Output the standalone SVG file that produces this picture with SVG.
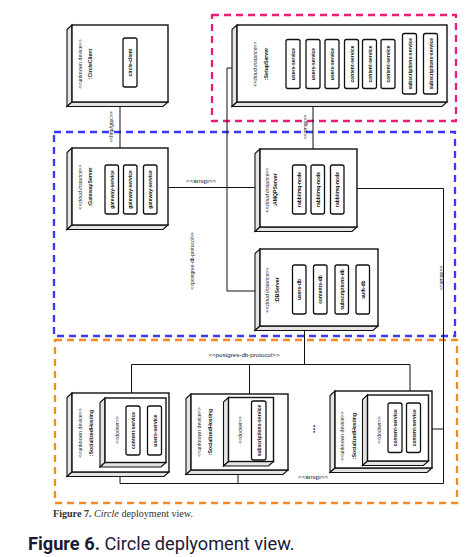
<svg xmlns="http://www.w3.org/2000/svg" width="476" height="557" viewBox="0 0 476 557">
<style>
  .bg{fill:#ffffff}
  .face{fill:#ffffff;stroke:#111;stroke-width:1.4}
  .side{fill:#e4e4e4;stroke:#111;stroke-width:1.1}
  .comp{fill:#ffffff;stroke:#111;stroke-width:1.3}
  .st{font-family:"Liberation Sans",Arial,sans-serif;font-size:5.2px;fill:#222;text-anchor:middle;dominant-baseline:central}
  .nm{font-family:"Liberation Sans",Arial,sans-serif;font-size:5.2px;font-weight:bold;fill:#111;text-anchor:middle;dominant-baseline:central}
  .cl{font-family:"Liberation Sans",Arial,sans-serif;font-size:5px;font-weight:bold;fill:#111;text-anchor:middle;dominant-baseline:central}
  .lb{font-family:"Liberation Sans",Arial,sans-serif;font-size:6.2px;fill:#222;text-anchor:middle}
  .lr{font-family:"Liberation Sans",Arial,sans-serif;font-size:5px;fill:#222;text-anchor:middle;dominant-baseline:central}
  .conn{fill:none;stroke:#111;stroke-width:1}
  .zone{fill:none;stroke-width:2.3;stroke-dasharray:7 5}
</style>
<rect class="bg" x="0" y="0" width="476" height="557"/>

<g id="zones">
  <rect class="zone" x="212" y="15" width="244" height="106" stroke="#ec1c7d"/>
  <rect class="zone" x="54" y="132" width="401" height="204" stroke="#3a3af0"/>
  <rect class="zone" x="55" y="340" width="402" height="163" stroke="#f58a1f"/>
</g>

<g id="connectors">
  <path class="conn" d="M120,106.5 V148"/>
  <path class="conn" d="M313,106.5 V149"/>
  <path class="conn" d="M232,68 H227 V291 H255"/>
  <path class="conn" d="M168,187.5 H255"/>
  <path class="conn" d="M357,188.5 H443.5 V483.5 H120 V476.5"/>
  <path class="conn" d="M238,474.5 V483.5"/>
  <path class="conn" d="M432,429 H443.5"/>
  <path class="conn" d="M304.5,330.5 V364.5"/>
  <path class="conn" d="M131.5,393 V364.5 H410 V391"/>
  <path class="conn" d="M249.5,364.5 V394"/>
  <text class="lr" transform="translate(111,127) rotate(-90)">&lt;&lt;http/grpc&gt;&gt;</text>
  <text class="lr" transform="translate(305,127) rotate(-90)">&lt;&lt;amqp&gt;&gt;</text>
  <text class="lb" x="201" y="183">&lt;&lt;amqp&gt;&gt;</text>
  <text class="lr" transform="translate(192,261) rotate(-90)">&lt;&lt;postgres-db-protocol&gt;&gt;</text>
  <text class="lr" transform="translate(441,278) rotate(-90)">&lt;&lt;amqp&gt;&gt;</text>
  <text class="lb" x="244" y="357">&lt;&lt;postgres-db-protocol&gt;&gt;</text>
  <text class="lb" x="313" y="479">&lt;&lt;amqp&gt;&gt;</text>
</g>

<g id="circle-client">
  <polygon class="side" points="72,25 67,29.5 67,106.5 72,102"/>
  <polygon class="side" points="67,106.5 72,102 168,102 163,106.5"/>
  <rect class="face" x="72" y="25" width="96" height="77"/>
  <text class="st" transform="translate(80,64) rotate(-90)">&lt;&lt;unknown device&gt;&gt;</text>
  <text class="nm" transform="translate(90,64) rotate(-90)">:CircleClient</text>
  <rect class="comp" x="123" y="38" width="14" height="49" rx="2"/>
  <text class="cl" transform="translate(130,62.5) rotate(-90)">circle-client</text>
</g>

<g id="setup-server">
  <polygon class="side" points="237,25 232,29.5 232,106.5 237,102"/>
  <polygon class="side" points="232,106.5 237,102 447,102 442,106.5"/>
  <rect class="face" x="237" y="25" width="210" height="77"/>
  <text class="st" transform="translate(255,64) rotate(-90)" font-style="italic">&lt;&lt;cloud instance&gt;&gt;</text>
  <text class="nm" transform="translate(266,64) rotate(-90)">:SetupServer</text>
  <rect class="comp" x="286" y="39.5" width="14" height="49" rx="2"/>
  <text class="cl" transform="translate(293,64) rotate(-90)">users-service</text>
  <rect class="comp" x="306" y="39.5" width="14" height="49" rx="2"/>
  <text class="cl" transform="translate(313,64) rotate(-90)">users-service</text>
  <rect class="comp" x="325" y="39.5" width="14" height="49" rx="2"/>
  <text class="cl" transform="translate(332,64) rotate(-90)">users-service</text>
  <rect class="comp" x="344.5" y="39.5" width="14" height="49" rx="2"/>
  <text class="cl" transform="translate(351.5,64) rotate(-90)">content-service</text>
  <rect class="comp" x="362.5" y="39.5" width="14" height="49" rx="2"/>
  <text class="cl" transform="translate(369.5,64) rotate(-90)">content-service</text>
  <rect class="comp" x="381" y="39.5" width="14" height="49" rx="2"/>
  <text class="cl" transform="translate(388,64) rotate(-90)">content-service</text>
  <rect class="comp" x="402.5" y="33.5" width="14" height="60.5" rx="2"/>
  <text class="cl" transform="translate(409.5,63.75) rotate(-90)">subscriptions-service</text>
  <rect class="comp" x="423.5" y="33.5" width="14" height="60.5" rx="2"/>
  <text class="cl" transform="translate(430.5,63.75) rotate(-90)">subscriptions-service</text>
</g>

<g id="gateway-server">
  <polygon class="side" points="72,148 67,152.5 67,229.5 72,225"/>
  <polygon class="side" points="67,229.5 72,225 168,225 163,229.5"/>
  <rect class="face" x="72" y="148" width="96" height="77"/>
  <text class="st" transform="translate(80,187) rotate(-90)" font-style="italic">&lt;&lt;cloud instance&gt;&gt;</text>
  <text class="nm" transform="translate(90,187) rotate(-90)">:GatewayServer</text>
  <rect class="comp" x="105" y="165" width="13.5" height="49" rx="2"/>
  <text class="cl" transform="translate(111.75,189.5) rotate(-90)">gateway-service</text>
  <rect class="comp" x="123.5" y="165" width="13.5" height="49" rx="2"/>
  <text class="cl" transform="translate(130.25,189.5) rotate(-90)">gateway-service</text>
  <rect class="comp" x="143.5" y="165" width="13.5" height="49" rx="2"/>
  <text class="cl" transform="translate(150.25,189.5) rotate(-90)">gateway-service</text>
</g>

<g id="amqp-server">
  <polygon class="side" points="260,149 255,153.5 255,231.5 260,227"/>
  <polygon class="side" points="255,231.5 260,227 357,227 352,231.5"/>
  <rect class="face" x="260" y="149" width="97" height="78"/>
  <text class="st" transform="translate(267,190) rotate(-90)" font-style="italic">&lt;&lt;cloud instance&gt;&gt;</text>
  <text class="nm" transform="translate(275,190) rotate(-90)">:AMQPServer</text>
  <rect class="comp" x="292.5" y="165" width="13.5" height="49" rx="2"/>
  <text class="cl" transform="translate(299.25,189.5) rotate(-90)">rabbitmq-node</text>
  <rect class="comp" x="311" y="165" width="13.5" height="49" rx="2"/>
  <text class="cl" transform="translate(317.75,189.5) rotate(-90)">rabbitmq-node</text>
  <rect class="comp" x="330.5" y="165" width="13.5" height="49" rx="2"/>
  <text class="cl" transform="translate(337.25,189.5) rotate(-90)">rabbitmq-node</text>
</g>

<g id="db-server">
  <polygon class="side" points="260,249 255,253.5 255,330.5 260,326"/>
  <polygon class="side" points="255,330.5 260,326 378,326 373,330.5"/>
  <rect class="face" x="260" y="249" width="118" height="77"/>
  <text class="st" transform="translate(267,290) rotate(-90)" font-style="italic">&lt;&lt;cloud instance&gt;&gt;</text>
  <text class="nm" transform="translate(277,290) rotate(-90)">:DBServer</text>
  <rect class="comp" x="292.5" y="265" width="13.5" height="49" rx="2"/>
  <text class="cl" transform="translate(299.25,289.5) rotate(-90)">users-db</text>
  <rect class="comp" x="313.5" y="265" width="13.5" height="49" rx="2"/>
  <text class="cl" transform="translate(320.25,289.5) rotate(-90)">contents-db</text>
  <rect class="comp" x="335" y="265" width="13.5" height="49" rx="2"/>
  <text class="cl" transform="translate(341.75,289.5) rotate(-90)">subscriptions-db</text>
  <rect class="comp" x="356" y="265" width="13.5" height="49" rx="2"/>
  <text class="cl" transform="translate(362.75,289.5) rotate(-90)">auth-db</text>
</g>

<g id="hosting-1">
  <polygon class="side" points="72,393 67,397.5 67,476.5 72,472"/>
  <polygon class="side" points="67,476.5 72,472 169,472 164,476.5"/>
  <rect class="face" x="72" y="393" width="97" height="79"/>
  <text class="st" transform="translate(80,433) rotate(-90)">&lt;&lt;unknown device&gt;&gt;</text>
  <text class="nm" transform="translate(91,433) rotate(-90)">:SocializedHosting</text>
  <polygon class="side" points="105,398 100,402.5 100,467 105,462.5"/>
  <polygon class="side" points="100,467 105,462.5 166,462.5 161,467"/>
  <rect class="face" x="105" y="398" width="61" height="64.5"/>
  <text class="st" transform="translate(117,430) rotate(-90)">&lt;&lt;docker&gt;&gt;</text>
  <rect class="comp" x="126" y="406" width="14" height="49" rx="2"/>
  <text class="cl" transform="translate(133,430.5) rotate(-90)">content-service</text>
  <rect class="comp" x="147.5" y="406" width="14" height="49" rx="2"/>
  <text class="cl" transform="translate(154.5,430.5) rotate(-90)">users-service</text>
</g>

<g id="hosting-2">
  <polygon class="side" points="191,394 186,398.5 186,474.5 191,470"/>
  <polygon class="side" points="186,474.5 191,470 288,470 283,474.5"/>
  <rect class="face" x="191" y="394" width="97" height="76"/>
  <text class="st" transform="translate(198.5,432) rotate(-90)">&lt;&lt;unknown device&gt;&gt;</text>
  <text class="nm" transform="translate(209.5,432) rotate(-90)">:SocializedHosting</text>
  <polygon class="side" points="228.5,397.5 223.5,402 223.5,466 228.5,461.5"/>
  <polygon class="side" points="223.5,466 228.5,461.5 273.5,461.5 268.5,466"/>
  <rect class="face" x="228.5" y="397.5" width="45" height="64"/>
  <text class="st" transform="translate(240,430) rotate(-90)">&lt;&lt;docker&gt;&gt;</text>
  <rect class="comp" x="251.5" y="401" width="14.5" height="59" rx="2"/>
  <text class="cl" transform="translate(258.75,430.5) rotate(-90)">subscriptions-service</text>
</g>

<text class="nm" transform="translate(311,429) rotate(-90)" style="font-size:10px">...</text>

<g id="hosting-3">
  <polygon class="side" points="335,391 330,395.5 330,472.5 335,468"/>
  <polygon class="side" points="330,472.5 335,468 432,468 427,472.5"/>
  <rect class="face" x="335" y="391" width="97" height="77"/>
  <text class="st" transform="translate(342,436) rotate(-90)">&lt;&lt;unknown device&gt;&gt;</text>
  <text class="nm" transform="translate(353.5,436) rotate(-90)">:SocializedHosting</text>
  <polygon class="side" points="367.5,395 362.5,399.5 362.5,465.5 367.5,461"/>
  <polygon class="side" points="362.5,465.5 367.5,461 428.5,461 423.5,465.5"/>
  <rect class="face" x="367.5" y="395" width="61" height="66"/>
  <text class="st" transform="translate(378.5,430) rotate(-90)">&lt;&lt;docker&gt;&gt;</text>
  <rect class="comp" x="388" y="403" width="14" height="49.5" rx="2"/>
  <text class="cl" transform="translate(395,427.75) rotate(-90)">content-service</text>
  <rect class="comp" x="406.5" y="403" width="14" height="49.5" rx="2"/>
  <text class="cl" transform="translate(413.5,427.75) rotate(-90)">content-service</text>
</g>

<text x="53" y="516.5" font-family="'Liberation Serif','Times New Roman',serif" font-size="9.5" fill="#333" textLength="140" lengthAdjust="spacingAndGlyphs"><tspan font-weight="bold">Figure 7.</tspan> <tspan font-style="italic">Circle</tspan> deployment view.</text>
<text x="28" y="550" font-family="Roboto,'Noto Sans',sans-serif" font-size="18.2" fill="#1b1b36"><tspan font-weight="bold">Figure 6.</tspan> Circle deplyoment view.</text>
</svg>
